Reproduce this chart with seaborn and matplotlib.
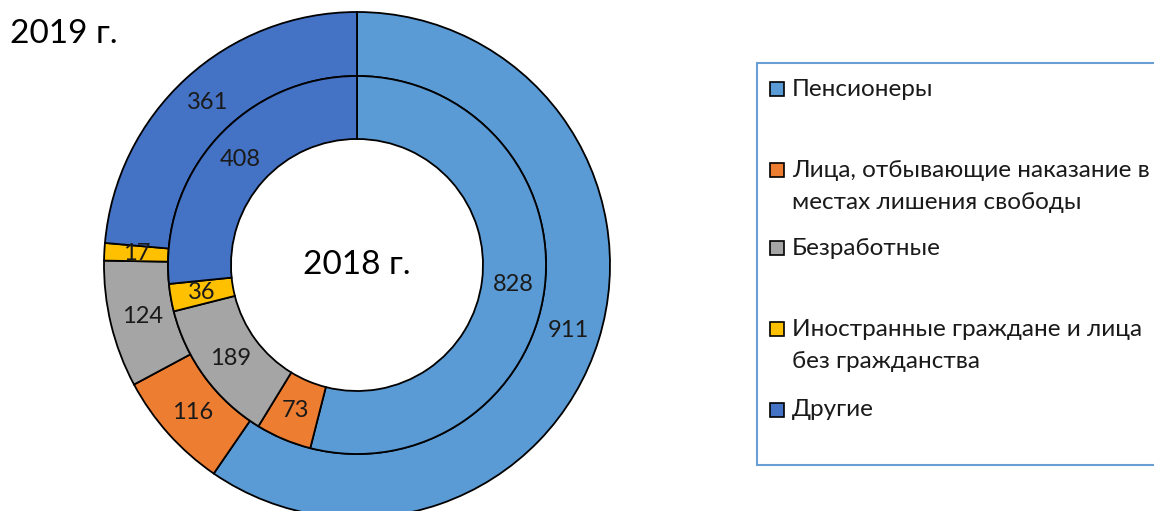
import matplotlib
matplotlib.use("Agg")
import matplotlib.pyplot as plt
from matplotlib.patches import Rectangle
import seaborn as sns

categories = ["Пенсионеры",
              "Лица, отбывающие наказание в\nместах лишения свободы",
              "Безработные",
              "Иностранные граждане и лица\nбез гражданства",
              "Другие"]
values_2019 = [911, 116, 124, 17, 361]
values_2018 = [828, 73, 189, 36, 408]
colors = ["#5B9BD5", "#ED7D31", "#A5A5A5", "#FFC000", "#4472C4"]

sns.set_theme(style="white")
plt.rcParams['font.family'] = ['Lato', 'DejaVu Sans']

W, H = 1154, 511
fig = plt.figure(figsize=(W / 100, H / 100), dpi=100)
ax = fig.add_axes([0, 0, 1, 1])

def Y(y):
    return H - y

cx, cy = 357, Y(265)
R_out, R_mid, R_in = 253, 189, 126

def fmt(vals):
    tot = sum(vals)
    return lambda p: f"{round(p * tot / 100)}"

ax.pie(values_2019, colors=colors, radius=R_out, center=(cx, cy),
       startangle=90, counterclock=False,
       wedgeprops=dict(width=R_out - R_mid, edgecolor='black', linewidth=1.3),
       autopct=fmt(values_2019), pctdistance=(R_out + R_mid) / 2 / R_out,
       textprops=dict(fontsize=17, color='#1a1a1a'), frame=True)
ax.pie(values_2018, colors=colors, radius=R_mid, center=(cx, cy),
       startangle=90, counterclock=False,
       wedgeprops=dict(width=R_mid - R_in, edgecolor='black', linewidth=1.3),
       autopct=fmt(values_2018), pctdistance=(R_mid + R_in) / 2 / R_mid,
       textprops=dict(fontsize=17, color='#1a1a1a'), frame=True)
ax.set_xlim(0, W)
ax.set_ylim(0, H)
ax.set_aspect('equal')
ax.axis('off')

ax.text(cx, cy, "2018 г.", ha='center', va='center', fontsize=24, color='black')
ax.text(10, Y(34), "2019 г.", ha='left', va='center', fontsize=24, color='black')

# legend
ax.add_patch(Rectangle((757, Y(465)), 520, 402, facecolor='white',
                       edgecolor='#6A9FD6', linewidth=1.5, clip_on=False))
leg_y = [89, 170, 248, 329, 410]
for lab, col, yy in zip(categories, colors, leg_y):
    ax.add_patch(Rectangle((770, Y(yy) - 7), 14, 14, facecolor=col,
                           edgecolor='black', linewidth=1.2))
    if '\n' in lab:
        ax.text(792, Y(yy) + 10, lab, ha='left', va='top', fontsize=17.5,
                color='#1a1a1a', linespacing=1.65)
    else:
        ax.text(792, Y(yy), lab, ha='left', va='center', fontsize=17.5,
                color='#1a1a1a')

fig.savefig("out.png", dpi=100)
